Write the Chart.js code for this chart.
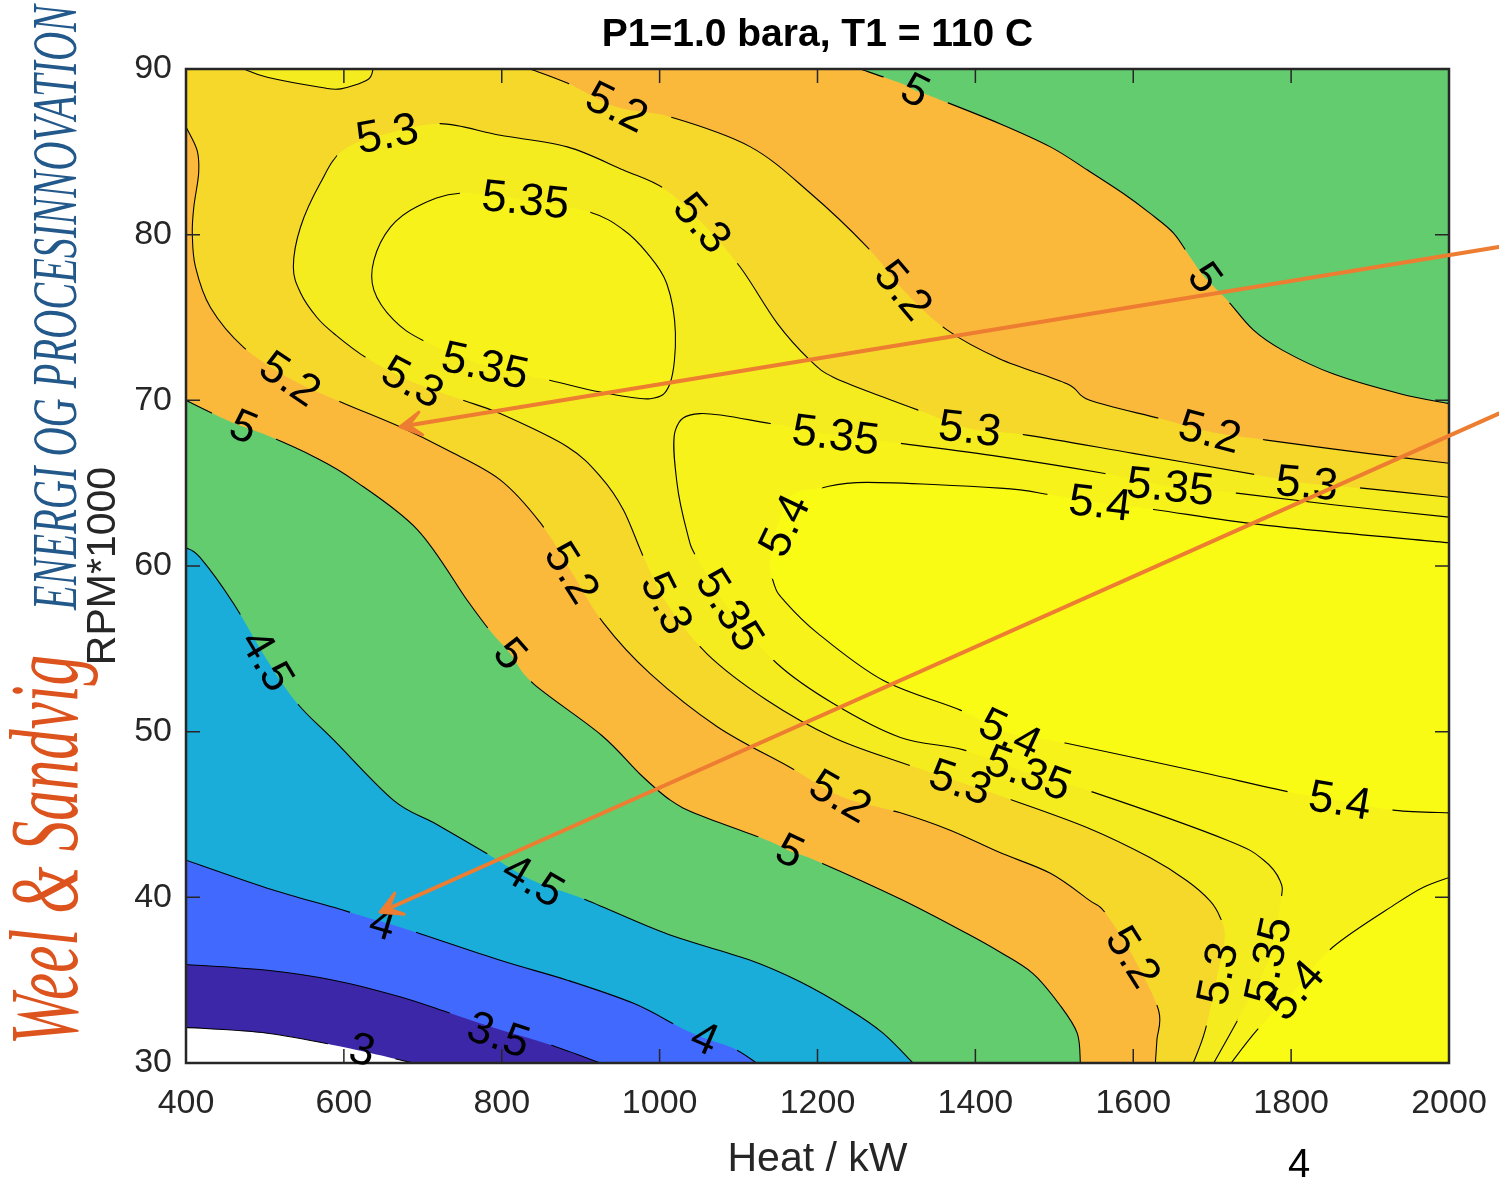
<!DOCTYPE html>
<html>
<head>
<meta charset="utf-8">
<script src="https://cdn.jsdelivr.net/npm/chart.js@4.4.0/dist/chart.umd.min.js"></script>
<style>
  html, body { margin: 0; padding: 0; background: #fff; }
  canvas { display: block; }
</style>
</head>
<body>
<canvas id="grafikKontur" width="1499" height="1182"></canvas>
<script>
// axis ticks
const xTicks = [400, 600, 800, 1000, 1200, 1400, 1600, 1800, 2000];
const yTicks = [30, 40, 50, 60, 70, 80, 90];

// contour levels and the fill colour of the band above each level
const levels = [3, 3.5, 4, 4.5, 5, 5.2, 5.3, 5.35, 5.4];
const bandColors = ['#3d27a9', '#4169fe', '#1aadda', '#63cc6f', '#fbb93c', '#f5d82a', '#f4ec1f', '#f7f31a', '#f9fb15'];

// contour lines, [heat kW, rpm*1000]
const c3 = [[400, 32.15], [503, 31.8], [596, 31.0], [688, 30]];
const c35 = [[400, 35.95], [503, 35.6], [587, 35.0], [671, 34.0], [735, 33.0], [798, 32.0], [861, 31.1], [925, 30]];
const c4 = [[400, 42.24], [503, 40.55], [587, 39.4], [621, 38.9], [684, 38.0], [798, 36.2], [883, 35.0], [967, 33.6],
  [1028, 32.1], [1057, 31.5], [1093, 30.9], [1123, 30]];
const c45 = [[400, 61.1], [418, 60.5], [460, 57.75], [503, 54.3], [541, 51.7], [587, 49.5], [663, 45.85], [714, 44.5],
  [781, 42.65], [840, 41.0], [904, 39.9], [1009, 37.8], [1115, 36.2], [1178, 34.9], [1241, 33.2], [1283, 31.8], [1321, 30]];
const c5lo = [[400, 70], [443, 69.0], [473, 68.4], [507, 67.8], [562, 66.6], [612, 65.2], [693, 62.2], [756, 57.95],
  [785, 56.1], [811, 54.7], [840, 52.9], [926, 49.8], [976, 47.4], [1014, 45.85], [1051, 44.95], [1136, 43.45],
  [1165, 42.8], [1199, 42.2], [1305, 39.9], [1390, 37.8], [1431, 36.7], [1473, 35.4], [1507, 33.5], [1529, 31.8], [1533, 30]];
const c5hi = [[1254, 90], [1305, 89.15], [1324, 88.7], [1347, 88.3], [1431, 86.7], [1495, 85.3], [1542, 83.9],
  [1587, 82.5], [1621, 81.3], [1651, 80.1], [1672, 78.65], [1691, 77.4], [1719, 76.05], [1752, 74.25], [1790, 73.0],
  [1853, 71.6], [1938, 70.4], [2000, 69.8]];
const c52lo = [[400, 86.5], [414, 85.1], [416, 83.7], [410, 81.7], [408, 80.1], [412, 78.05], [431, 75.6], [473, 73.2],
  [532, 71.3], [596, 69.9], [671, 68.4], [731, 67.0], [798, 65.2], [849, 62.6], [889, 59.6], [929, 56.55], [988, 53.5],
  [1073, 50.3], [1165, 47.85], [1229, 46.1], [1305, 45.1], [1368, 44.05], [1431, 42.7], [1495, 41.45], [1545, 39.8],
  [1564, 39.1], [1600, 36.4], [1632, 33.2], [1630, 31.4], [1628, 30]];
const c52hi = [[836, 90], [883, 89.15], [946, 87.7], [1014, 87.1], [1115, 85.3], [1191, 82.5], [1263, 79.25],
  [1309, 76.65], [1364, 74.25], [1431, 72.5], [1516, 71.0], [1545, 70.0], [1634, 68.9], [1697, 68.1], [1769, 67.6],
  [1896, 66.8], [2000, 66.2]];
const c53cap = [[473, 90], [503, 89.5], [570, 88.9], [596, 88.8], [630, 89.35], [637, 90]];
const c53 = [[2000, 64.15], [1890, 64.7], [1820, 65.0], [1757, 65.5], [1600, 66.8], [1465, 67.9], [1393, 68.3],
  [1334, 69.3], [1283, 70.2], [1220, 71.4], [1191, 72.4], [1149, 74.65], [1102, 78.05], [1054, 80.7], [1005, 82.8],
  [954, 83.9], [883, 85.3], [798, 86.0], [722, 86.7], [655, 86.1], [599, 85.1], [570, 83.1], [545, 80.45], [536, 78.05],
  [545, 76.5], [566, 75.0], [587, 74.05], [629, 72.55], [687, 71.1], [751, 70.0], [798, 69.2], [883, 67.2], [925, 65.4],
  [954, 63.4], [980, 60.5], [1009, 57.75], [1060, 54.7], [1136, 51.9], [1220, 49.65], [1305, 48.15], [1381, 46.95],
  [1448, 45.85], [1542, 44.2], [1621, 42.4], [1668, 41.0], [1697, 39.8], [1710, 38.8], [1716, 37.6], [1707, 35.4],
  [1691, 31.95], [1676, 30]];
const c535loop = [[747, 82.5], [830, 82.1], [912, 81.35], [954, 80.3], [984, 78.9], [1009, 77.05], [1020, 74.05],
  [1013, 71.0], [988, 70.1], [925, 70.5], [862, 71.2], [779, 72.1], [701, 73.6], [663, 74.85], [638, 76.65],
  [638, 78.45], [659, 80.45], [693, 81.7]];
const c535 = [[2000, 62.95], [1853, 63.7], [1731, 64.4], [1647, 64.8], [1562, 65.6], [1431, 66.6], [1305, 67.4],
  [1223, 67.9], [1140, 68.6], [1051, 69.2], [1020, 68.2], [1022, 65.0], [1035, 62.0], [1047, 60.5], [1089, 57.35],
  [1149, 54.1], [1220, 51.7], [1305, 49.65], [1385, 48.9], [1467, 47.5], [1549, 46.35], [1719, 43.45], [1765, 42.25],
  [1786, 41.0], [1787, 39.8], [1771, 36.2], [1737, 33.0], [1702, 30]];
const c54 = [[2000, 61.4], [1769, 62.45], [1628, 63.4], [1558, 63.8], [1495, 64.3], [1431, 64.7], [1263, 65.05],
  [1203, 64.7], [1168, 64.3], [1150, 62.5], [1140, 60.3], [1145, 58.9], [1157, 57.95], [1200, 55.95], [1283, 53.1],
  [1381, 51.3], [1444, 49.9], [1511, 49.35], [1672, 47.7], [1799, 46.35], [1862, 45.85], [1932, 45.25], [2000, 45.1]];
const c54corner = [[2000, 41.2], [1967, 40.6], [1934, 39.65], [1853, 37.0], [1805, 34.4], [1757, 32.0], [1724, 30]];

// inline contour labels: [level, heat, rpm]
const labelSpots = [
  [3, 623, 30.8],
  [3.5, 796, 31.7],
  [4, 649, 38.4], [4, 1057, 31.5],
  [4.5, 503, 54.3], [4.5, 840, 41.0],
  [5, 473, 68.4], [5, 811, 54.7], [5, 1165, 42.8], [5, 1324, 88.7], [5, 1691, 77.4],
  [5.2, 532, 71.3], [5.2, 889, 59.6], [5.2, 1229, 46.1], [5.2, 1600, 36.4], [5.2, 946, 87.7], [5.2, 1309, 76.65], [5.2, 1697, 68.1],
  [5.3, 655, 86.1], [5.3, 1054, 80.7], [5.3, 1393, 68.3], [5.3, 1820, 65.0], [5.3, 687, 71.1], [5.3, 1009, 57.75], [5.3, 1381, 46.95], [5.3, 1707, 35.4],
  [5.35, 830, 82.1], [5.35, 779, 72.1], [5.35, 1223, 67.9], [5.35, 1647, 64.8], [5.35, 1089, 57.35], [5.35, 1467, 47.5], [5.35, 1771, 36.2],
  [5.4, 1158, 62.45], [5.4, 1558, 63.8], [5.4, 1444, 49.9], [5.4, 1862, 45.85], [5.4, 1805, 34.4]
];

// orange annotation arrows (tail -> head)
const arrowTails = [[2063, 79.25], [2063, 69.2]];
const arrowHeads = [[671, 68.4], [646, 39.1]];

const contourLines = [
  {level: 3, pts: c3}, {level: 3.5, pts: c35}, {level: 4, pts: c4}, {level: 4.5, pts: c45},
  {level: 5, pts: c5lo}, {level: 5, pts: c5hi}, {level: 5.2, pts: c52lo}, {level: 5.2, pts: c52hi},
  {level: 5.3, pts: c53cap}, {level: 5.3, pts: c53}, {level: 5.35, pts: c535loop, closed: true},
  {level: 5.35, pts: c535}, {level: 5.4, pts: c54}, {level: 5.4, pts: c54corner}
];

const rev = a => a.slice().reverse();
const fillShapes = [
  {band: 0, parts: [c3, 'BR', 'TR', 'TL']},
  {band: 1, parts: [c35, 'BR', 'TR', 'TL']},
  {band: 2, parts: [c4, 'BR', 'TR', 'TL']},
  {band: 3, parts: [c45, 'BR', 'TR', 'TL']},
  {band: 4, parts: [c5lo, 'BR', rev(c5hi), 'TL']},
  {band: 5, parts: [c52lo, 'BR', rev(c52hi), 'TL']},
  {band: 6, parts: [c53cap]},
  {band: 6, parts: [c53, 'BR']},
  {band: 7, parts: [c535loop], closed: true},
  {band: 7, parts: [c535, 'BR']},
  {band: 8, parts: [c54]},
  {band: 8, parts: [c54corner, 'BR']}
];

const sans = "'Liberation Sans', Arial, Helvetica, sans-serif";
const axisColor = '#262626';
const labelFont = 45;

function traceCurve(ctx, P, closed, first) {
  const n = P.length;
  const get = i => closed ? P[(i + n) % n] : P[Math.max(0, Math.min(n - 1, i))];
  if (first) ctx.moveTo(P[0][0], P[0][1]); else ctx.lineTo(P[0][0], P[0][1]);
  const segs = closed ? n : n - 1;
  for (let i = 0; i < segs; i++) {
    const p0 = get(i - 1), p1 = get(i), p2 = get(i + 1), p3 = get(i + 2);
    ctx.bezierCurveTo(
      p1[0] + (p2[0] - p0[0]) / 6, p1[1] + (p2[1] - p0[1]) / 6,
      p2[0] - (p3[0] - p1[0]) / 6, p2[1] - (p3[1] - p1[1]) / 6,
      p2[0], p2[1]);
  }
}

const contourPlugin = {
  id: 'contourPlugin',
  beforeDatasetsDraw(chart) {
    const {ctx, chartArea: a, scales} = chart;
    const toPx = p => [scales.x.getPixelForValue(p[0]), scales.y.getPixelForValue(p[1])];
    const corners = {
      BL: [xTicks[0], yTicks[0]], BR: [xTicks[xTicks.length - 1], yTicks[0]],
      TR: [xTicks[xTicks.length - 1], yTicks[yTicks.length - 1]], TL: [xTicks[0], yTicks[yTicks.length - 1]]
    };
    ctx.save();
    ctx.beginPath();
    ctx.rect(a.left, a.top, a.right - a.left, a.bottom - a.top);
    ctx.clip();
    ctx.fillStyle = '#ffffff';
    ctx.fillRect(a.left, a.top, a.right - a.left, a.bottom - a.top);
    fillShapes.forEach(shape => {
      ctx.beginPath();
      let first = true;
      shape.parts.forEach(part => {
        if (typeof part === 'string') {
          const c = toPx(corners[part]);
          ctx.lineTo(c[0], c[1]);
        } else {
          traceCurve(ctx, part.map(toPx), !!shape.closed, first);
        }
        first = false;
      });
      ctx.closePath();
      ctx.fillStyle = bandColors[shape.band];
      ctx.fill();
    });
    ctx.restore();
  },
  afterDatasetsDraw(chart) {
    const {ctx, chartArea: a, scales} = chart;
    const toPx = p => [scales.x.getPixelForValue(p[0]), scales.y.getPixelForValue(p[1])];
    ctx.save();
    ctx.font = labelFont + 'px ' + sans;

    // label placement, angle taken from the nearest piece of the same level
    const labels = labelSpots.map(([lv, x, y]) => {
      const p = toPx([x, y]);
      let best = Infinity, ang = 0;
      contourLines.filter(c => c.level === lv).forEach(c => {
        const P = c.pts.map(toPx);
        const n = c.closed ? P.length : P.length - 1;
        for (let i = 0; i < n; i++) {
          const A = P[i], B = P[(i + 1) % P.length];
          const dx = B[0] - A[0], dy = B[1] - A[1];
          const len2 = dx * dx + dy * dy || 1;
          let t = ((p[0] - A[0]) * dx + (p[1] - A[1]) * dy) / len2;
          t = Math.max(0, Math.min(1, t));
          const qx = A[0] + t * dx - p[0], qy = A[1] + t * dy - p[1];
          const d = qx * qx + qy * qy;
          if (d < best) { best = d; ang = Math.atan2(dy, dx); }
        }
      });
      if (ang > Math.PI / 2) ang -= Math.PI;
      if (ang < -Math.PI / 2) ang += Math.PI;
      const text = String(lv);
      return {lv, text, x: p[0], y: p[1], a: ang, w: ctx.measureText(text).width + 44, h: labelFont * 0.8};
    });

    // contour lines with gaps under their own labels
    contourLines.forEach(c => {
      ctx.save();
      ctx.beginPath();
      ctx.rect(a.left, a.top, a.right - a.left, a.bottom - a.top);
      labels.filter(l => l.lv === c.level).forEach(l => {
        const cs = Math.cos(l.a), sn = Math.sin(l.a), hw = l.w / 2, hh = l.h / 2;
        [[-hw, -hh], [hw, -hh], [hw, hh], [-hw, hh]].forEach(([u, v], k) => {
          const X = l.x + u * cs - v * sn, Y = l.y + u * sn + v * cs;
          if (k === 0) ctx.moveTo(X, Y); else ctx.lineTo(X, Y);
        });
        ctx.closePath();
      });
      ctx.clip('evenodd');
      ctx.beginPath();
      traceCurve(ctx, c.pts.map(toPx), !!c.closed, true);
      if (c.closed) ctx.closePath();
      ctx.strokeStyle = '#000';
      ctx.lineWidth = 1.1;
      ctx.stroke();
      ctx.restore();
    });

    // box and inward ticks
    ctx.strokeStyle = axisColor;
    ctx.lineWidth = 1.5;
    ctx.beginPath();
    xTicks.forEach(v => {
      const X = scales.x.getPixelForValue(v);
      ctx.moveTo(X, a.bottom); ctx.lineTo(X, a.bottom - 14);
      ctx.moveTo(X, a.top); ctx.lineTo(X, a.top + 14);
    });
    yTicks.forEach(v => {
      const Y = scales.y.getPixelForValue(v);
      ctx.moveTo(a.left, Y); ctx.lineTo(a.left + 14, Y);
      ctx.moveTo(a.right, Y); ctx.lineTo(a.right - 14, Y);
    });
    ctx.stroke();
    ctx.lineWidth = 2.5;
    ctx.strokeRect(a.left, a.top, a.right - a.left, a.bottom - a.top);

    // label text
    ctx.fillStyle = '#000';
    ctx.textAlign = 'center';
    ctx.textBaseline = 'middle';
    labels.forEach(l => {
      ctx.save();
      ctx.translate(l.x, l.y);
      ctx.rotate(l.a);
      ctx.fillText(l.text, 0, 2);
      ctx.restore();
    });
    ctx.restore();
  },
  afterDraw(chart) {
    const {ctx, scales} = chart;
    const toPx = p => [scales.x.getPixelForValue(p[0]), scales.y.getPixelForValue(p[1])];
    ctx.save();
    // arrows
    ctx.strokeStyle = '#ed7d31';
    ctx.fillStyle = '#ed7d31';
    ctx.lineWidth = 4;
    ctx.lineCap = 'round';
    ctx.lineJoin = 'round';
    arrowTails.forEach((t, i) => {
      const T = toPx(t), H = toPx(arrowHeads[i]);
      const ang = Math.atan2(T[1] - H[1], T[0] - H[0]);
      ctx.beginPath();
      ctx.moveTo(T[0], T[1]);
      ctx.lineTo(H[0] + 8 * Math.cos(ang), H[1] + 8 * Math.sin(ang));
      ctx.stroke();
      ctx.beginPath();
      ctx.moveTo(H[0], H[1]);
      ctx.lineTo(H[0] + 24 * Math.cos(ang - 0.5), H[1] + 24 * Math.sin(ang - 0.5));
      ctx.lineTo(H[0] + 9 * Math.cos(ang), H[1] + 9 * Math.sin(ang));
      ctx.lineTo(H[0] + 24 * Math.cos(ang + 0.5), H[1] + 24 * Math.sin(ang + 0.5));
      ctx.closePath();
      ctx.lineWidth = 3;
      ctx.stroke();
      ctx.fill();
      ctx.lineWidth = 4;
    });

    // rotated company logo
    const logo = (text, font, color, baseX, startY, endY) => {
      ctx.save();
      ctx.font = font;
      const w = ctx.measureText(text).width;
      ctx.translate(baseX, startY);
      ctx.rotate(-Math.PI / 2);
      ctx.scale((startY - endY) / w, 1);
      ctx.fillStyle = color;
      ctx.textAlign = 'left';
      ctx.textBaseline = 'alphabetic';
      ctx.fillText(text, 0, 0);
      ctx.restore();
    };
    logo('Weel & Sandvig', "italic 98px 'Liberation Serif', 'Times New Roman', serif", '#dc531d', 77, 1045, 655);
    logo('ENERGI OG PROCESINNOVATION', "italic 64px 'Liberation Serif', 'Times New Roman', serif", '#22588a', 76, 610, 5);

    // page number
    ctx.fillStyle = '#000';
    ctx.font = '40px ' + sans;
    ctx.textAlign = 'center';
    ctx.textBaseline = 'middle';
    ctx.fillText('4', 1299, 1166);
    ctx.restore();
  }
};

new Chart(document.getElementById('grafikKontur'), {
  type: 'scatter',
  data: {datasets: []},
  options: {
    responsive: false,
    animation: false,
    devicePixelRatio: 1,
    layout: {padding: {left: 0, right: 50, top: 0, bottom: 0}},
    plugins: {
      legend: {display: false},
      tooltip: {enabled: false},
      title: {
        display: true,
        fullSize: false,
        text: 'P1=1.0 bara, T1 = 110 C',
        color: '#000',
        font: {family: sans, size: 39, weight: 'bold', lineHeight: 1.2},
        padding: {top: 12, bottom: 10.2}
      }
    },
    scales: {
      x: {
        type: 'linear',
        min: xTicks[0],
        max: xTicks[xTicks.length - 1],
        afterBuildTicks: s => { s.ticks = xTicks.map(v => ({value: v})); },
        afterFit: s => { s.height = 119; s.paddingLeft = 0; s.paddingRight = 0; },
        grid: {display: false, drawTicks: false},
        border: {display: false},
        ticks: {padding: 20, color: axisColor, font: {family: sans, size: 34}, maxRotation: 0,
          callback: v => String(v)},
        title: {display: true, text: 'Heat / kW', color: axisColor,
          font: {family: sans, size: 41, lineHeight: 1}, padding: {top: 0, bottom: 2}}
      },
      y: {
        type: 'linear',
        min: yTicks[0],
        max: yTicks[yTicks.length - 1],
        afterBuildTicks: s => { s.ticks = yTicks.map(v => ({value: v})); },
        afterFit: s => { s.width = 186; s.paddingTop = 0; s.paddingBottom = 0; },
        grid: {display: false, drawTicks: false},
        border: {display: false},
        ticks: {padding: 14, color: axisColor, font: {family: sans, size: 34}, callback: v => String(v)},
        title: {display: true, text: 'RPM*1000', color: axisColor,
          font: {family: sans, size: 41, lineHeight: 1}, padding: {top: 83.5, bottom: 0}}
      }
    }
  },
  plugins: [contourPlugin]
});
</script>
</body>
</html>
